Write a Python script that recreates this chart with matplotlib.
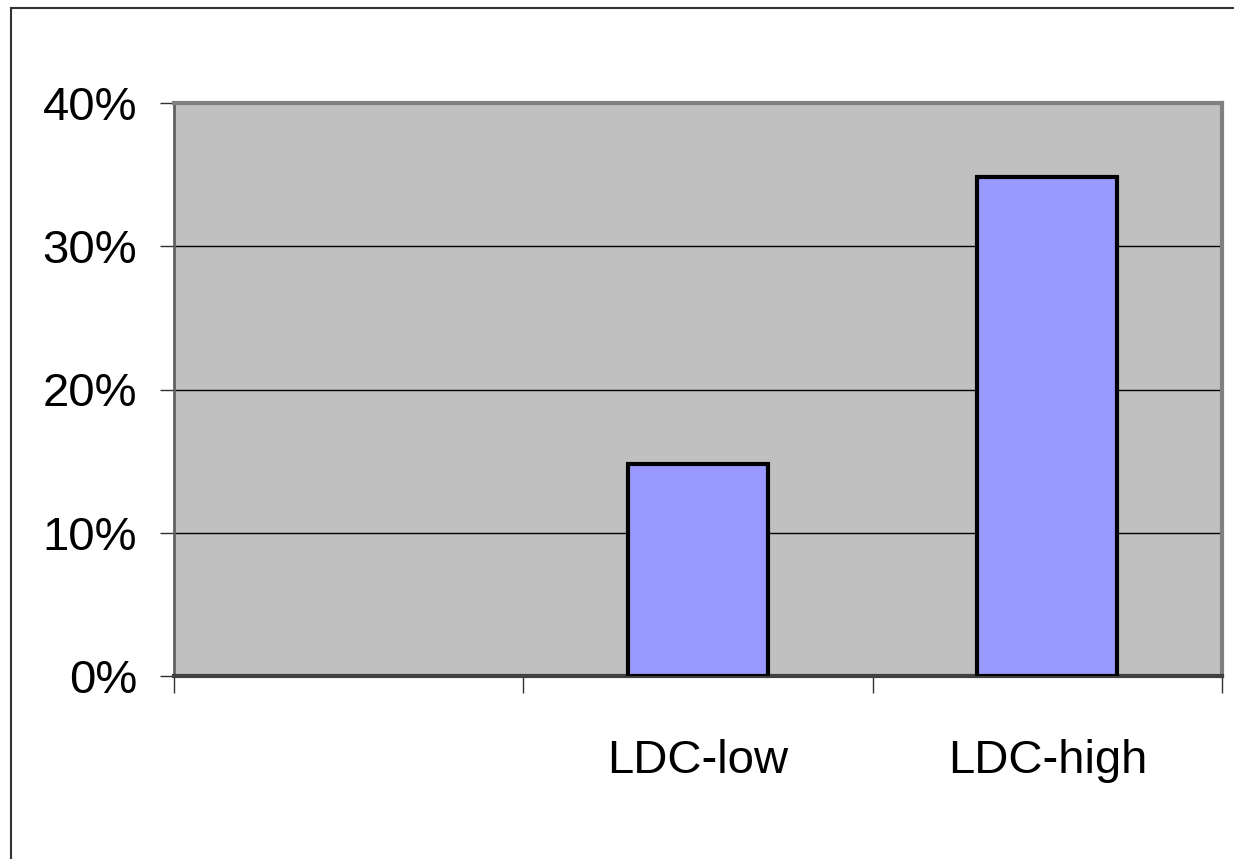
import matplotlib
matplotlib.use("Agg")
import numpy as np
import matplotlib.pyplot as plt
from matplotlib.ticker import FuncFormatter
from matplotlib.lines import Line2D

categories = ["", "LDC-low", "LDC-high"]
values = [np.nan, 0.148, 0.348]
yticks = [0.0, 0.1, 0.2, 0.3, 0.4]

plt.rcParams['font.family'] = ['Liberation Sans Narrow', 'Liberation Sans', 'DejaVu Sans']

W, H = 1234, 859
PX = 72 / 100  # points per pixel
fig = plt.figure(figsize=(W / 100, H / 100), dpi=100)
left, right, top, bottom = 174, 1222, 103, 676
ax = fig.add_axes([left / W, 1 - bottom / H, (right - left) / W, (bottom - top) / H])
ax.set_facecolor('#C0C0C0')

x = list(range(len(categories)))
ax.bar(x, values, width=0.40, color='#9999FF', edgecolor='black', linewidth=3, zorder=3)
ax.set_xlim(-0.5, len(categories) - 0.5)
ax.set_ylim(0, 0.4)
ax.set_yticks(yticks)
ax.yaxis.set_major_formatter(FuncFormatter(lambda v, p: f"{v*100:.0f}%"))
ax.grid(axis='y', color='black', linewidth=1.0, zorder=1)
ax.set_axisbelow(True)

ax.set_xticks([i + 0.5 for i in range(-1, len(categories))])
ax.set_xticklabels([])
ax.set_xticks(x, minor=True)
ax.set_xticklabels(categories, minor=True)
ax.tick_params(axis='x', which='major', length=17 * PX, width=1, color='#303030', direction='out')
ax.tick_params(axis='x', which='minor', length=0, pad=63 * PX, labelsize=34)
ax.tick_params(axis='y', length=14 * PX, width=1, color='#303030', labelsize=34, pad=23 * PX)

for s in ['top', 'right']:
    ax.spines[s].set_color('#808080')
    ax.spines[s].set_linewidth(3)
ax.spines['left'].set_color('#606060')
ax.spines['left'].set_linewidth(2)
ax.spines['bottom'].set_color('#404040')
ax.spines['bottom'].set_linewidth(3)

# outer chart border (top and left visible)
fig.add_artist(Line2D([11 / W, 11 / W], [0, 1 - 8 / H], transform=fig.transFigure, color='#333333', linewidth=1.5))
fig.add_artist(Line2D([11 / W, 1], [1 - 8 / H, 1 - 8 / H], transform=fig.transFigure, color='#333333', linewidth=1.5))

fig.savefig("out.png", dpi=100)
